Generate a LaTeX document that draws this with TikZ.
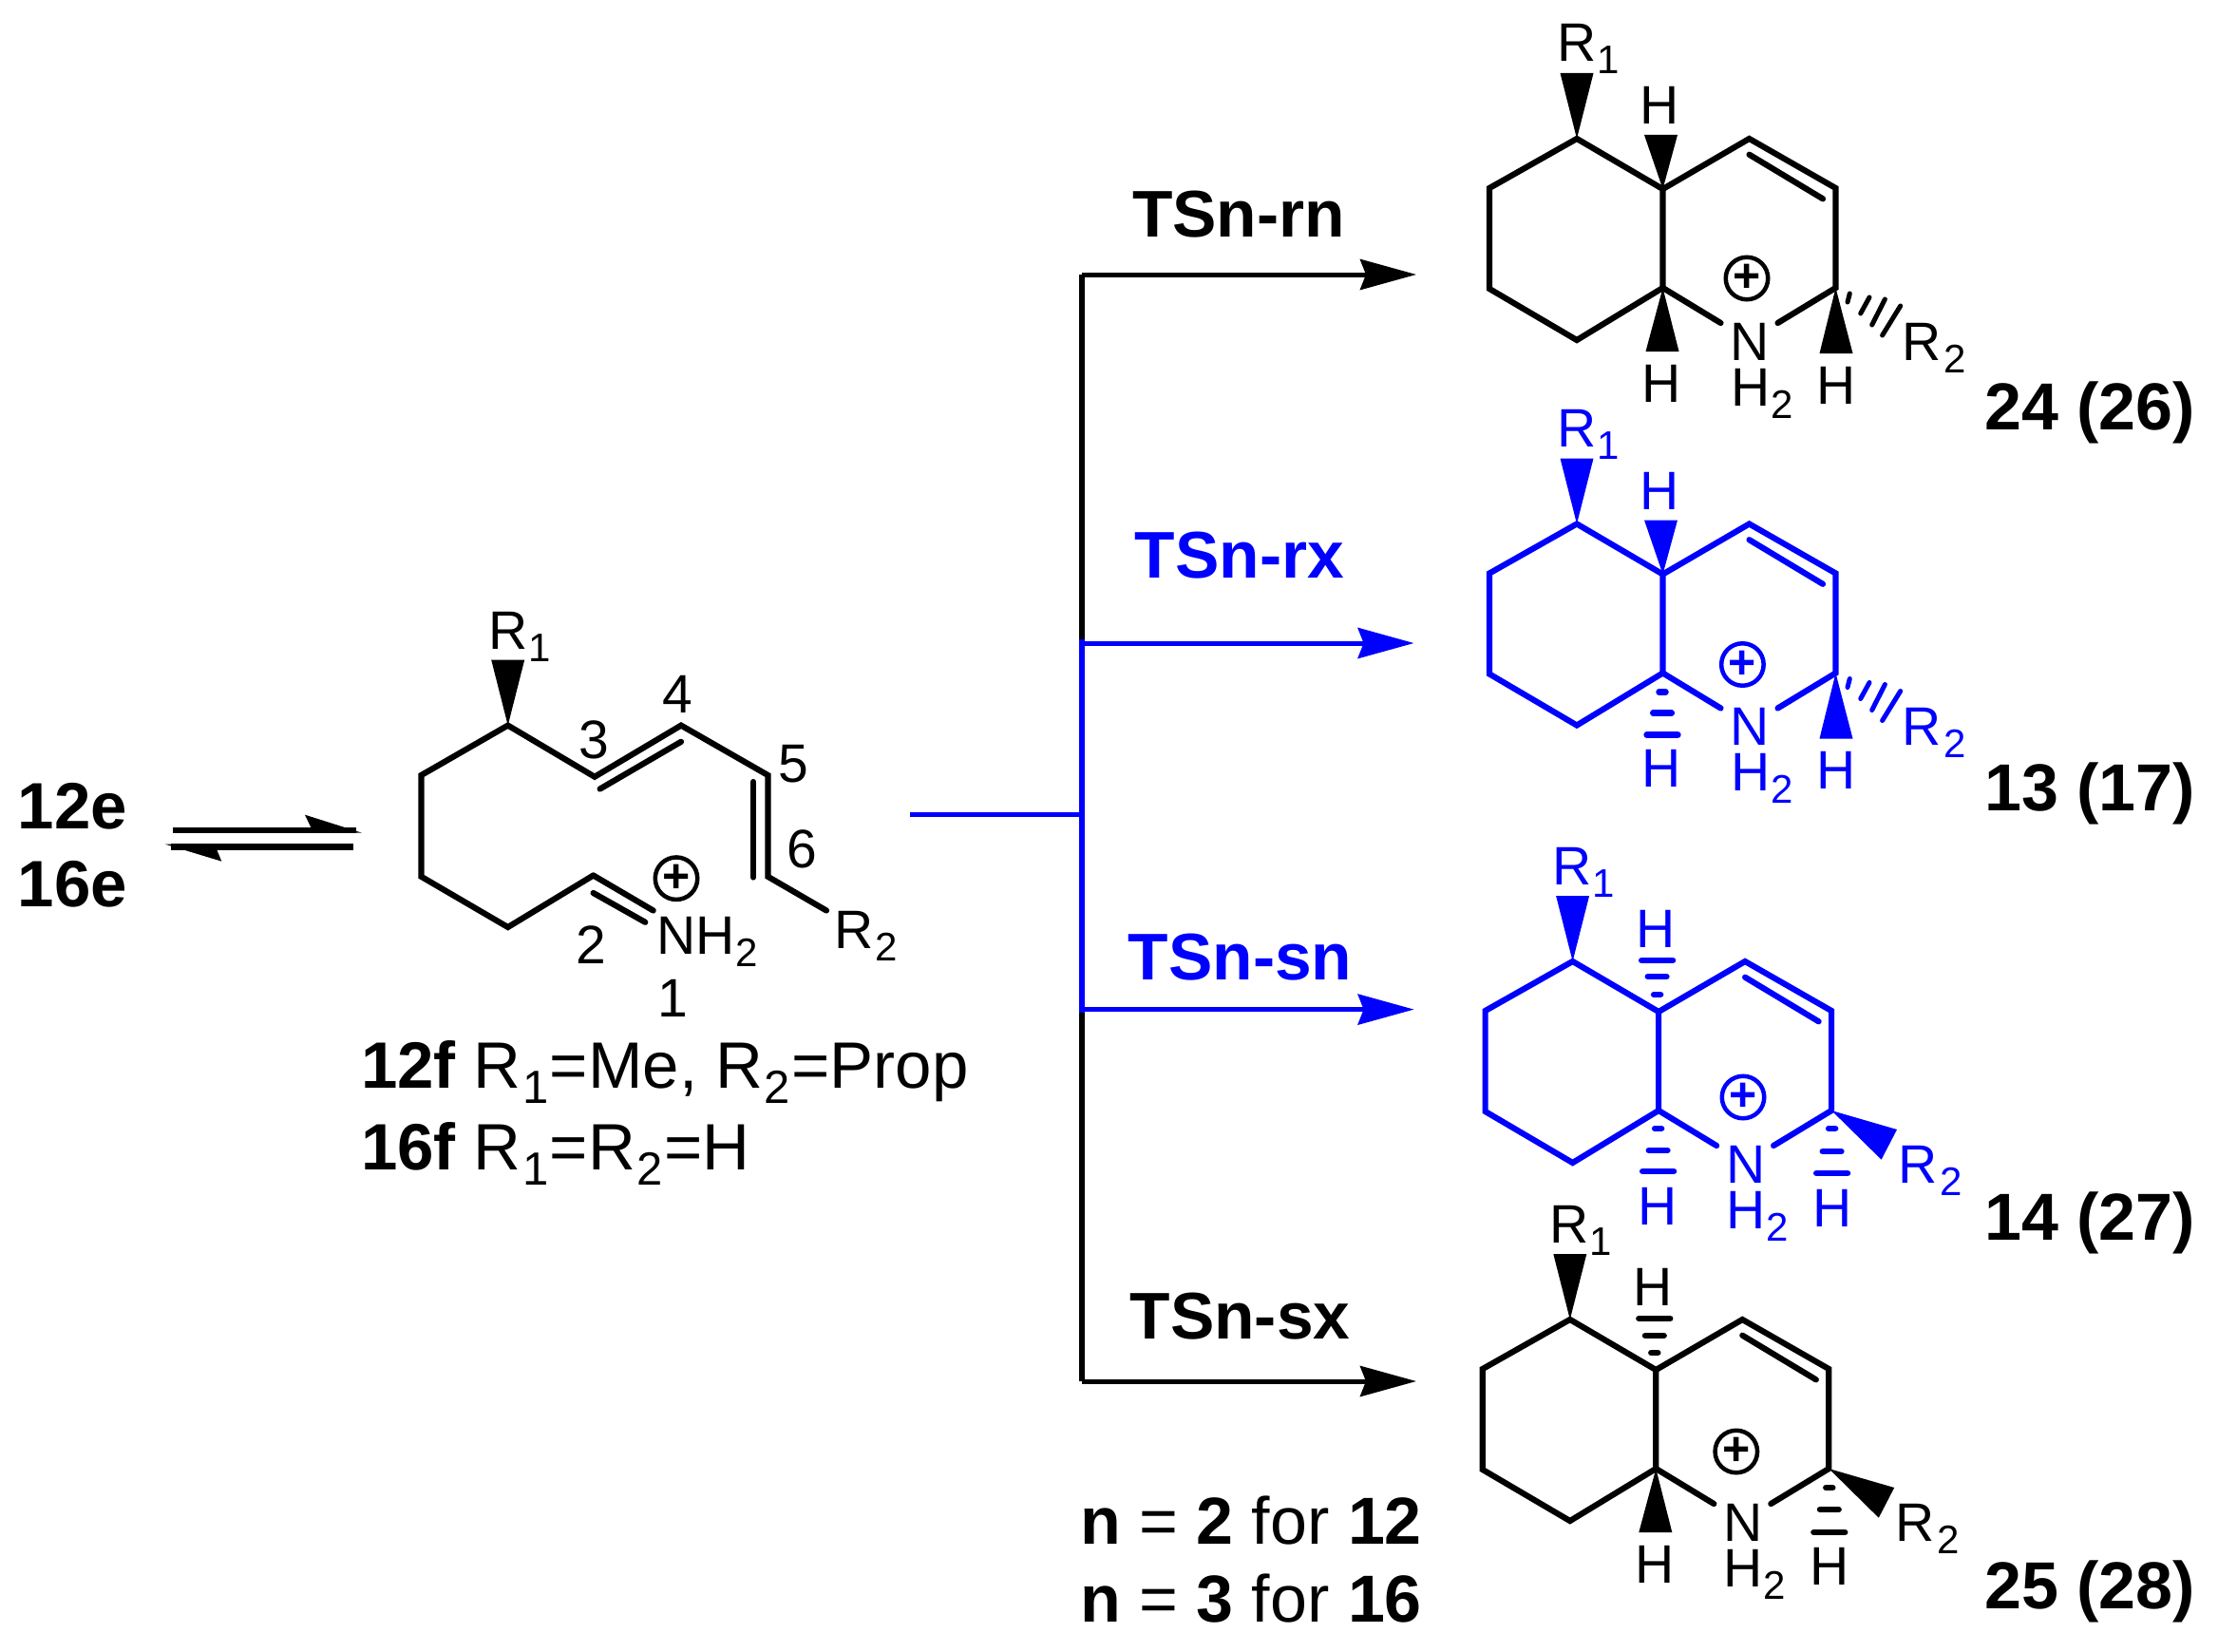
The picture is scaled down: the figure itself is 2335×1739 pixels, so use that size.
\documentclass[tikz,border=0pt]{standalone}
\usepackage{fontspec}
\setmainfont{Liberation Sans}
\usetikzlibrary{arrows.meta}
\definecolor{pureblue}{RGB}{0,0,255}
\newcommand{\fsz}[1]{\fontsize{#1}{#1}\selectfont}
\newcommand{\sbs}[1]{\kern1pt\raisebox{-13pt}{\fsz{42}#1}}
\newcommand{\sbb}[1]{\kern1.5pt\raisebox{-16pt}{\fsz{49}#1}\kern1.5pt}
\tikzset{
  atom/.style={inner sep=0pt,outer sep=0pt,font=\fsz{57},anchor=base},
  atomw/.style={atom,anchor=base west},
  lab/.style={inner sep=0pt,outer sep=0pt,font=\fsz{69},anchor=base west},
  tslab/.style={inner sep=0pt,outer sep=0pt,font=\fsz{69.5}\bfseries,anchor=base},
  nlab/.style={inner sep=0pt,outer sep=0pt,font=\fsz{70},anchor=base west},
  formula/.style={inner sep=0pt,outer sep=0pt,font=\fsz{69},anchor=base west},
  bond/.style={line width=6.2pt,line join=miter,line cap=round},
  inner/.style={line width=6.2pt,line cap=round},
  hashbar/.style={line width=6.5pt,line cap=round},
  chg/.style={circle,draw,line width=4.5pt,minimum size=44.5pt,inner sep=0pt,outer sep=0pt,font=\fsz{50}\bfseries},
  branch/.style={line width=5pt,-{Stealth[length=59pt,width=32pt,inset=6pt]}},
}
% wedge: tip coordinate, base-centre coordinate, half width
\newcommand{\wdg}[3]{\fill (#1) -- ([xshift=-#3pt]#2) -- ([xshift=#3pt]#2) -- cycle;}
% three hash bars: x, y1, y2, y3
\newcommand{\hsh}[4]{%
  \draw[hashbar] ({#1-3.5},#2) -- ({#1+3.5},#2);
  \draw[hashbar] ({#1-9.8},#3) -- ({#1+9.8},#3);
  \draw[hashbar] ({#1-16.4},#4) -- ({#1+16.4},#4);}
% hashed bond to R2
\newcommand{\hashRtwo}{%
  \draw[line width=5pt,line cap=round] (1947.3,309) -- (1945,318);
  \draw[line width=5pt,line cap=round] (1968,313) -- (1958.7,330);
  \draw[line width=5pt,line cap=round] (1984.4,315) -- (1970.7,342);
  \draw[line width=5pt,line cap=round] (2000.7,322) -- (1981.6,353);}
\newcommand{\wedgeRtwo}{\fill (jr) -- (2001.4,323) -- (1985,354.7) -- cycle;}
% fused ring: prefix, colour, dx, dy, plus x, plus y, stereo code
\newcommand{\fused}[7]{%
\begin{scope}[name prefix=#1-,color=#2,shift={(#3,#4)}]
  \coordinate (c5) at (1660,146);
  \coordinate (lu) at (1568,198);
  \coordinate (ll) at (1568,304);
  \coordinate (bo) at (1660,358);
  \coordinate (jb) at (1750.5,303);
  \coordinate (jt) at (1750.5,199);
  \coordinate (tr) at (1841.5,146);
  \coordinate (ru) at (1932.5,198);
  \coordinate (jr) at (1932.5,303);
  \coordinate (na) at (1811.5,340);
  \coordinate (nb) at (1871.5,340);
  \coordinate (ia) at (1841.5,162.7);
  \coordinate (ib) at (1919,209.3);
  \coordinate (wr) at (1660,77);
  \coordinate (wt) at (1748.5,142);
  \coordinate (wb) at (1750,370);
  \coordinate (wh) at (1933,372);
  \draw[bond] (jt) -- (c5) -- (lu) -- (ll) -- (bo) -- (jb) -- cycle;
  \draw[bond] (jt) -- (tr) -- (ru) -- (jr) -- (nb);
  \draw[bond] (jb) -- (na);
  \draw[inner] (ia) -- (ib);
  \wdg{c5}{wr}{17.5}
  \node[atomw] (rone) at (1639,65) {R\sbs{1}};
  \node[atom] (n) at (1842,379) {N};
  \node[atomw] (nh) at (1822,427) {H\sbs{2}};
  \node[atomw] (rtwo) at (2002.5,379) {R\kern2pt\sbs{2}};
  \node[atom] (ht) at (1747,131) {H};
  \node[atom] (hb) at (1749,423) {H};
  \node[atom] (hr) at (1933,425) {H};
  \node[chg] (plus) at (#5,#6) {+};
  #7
\end{scope}}
\begin{document}
\begin{tikzpicture}[x=1pt,y=-1pt]
\useasboundingbox (0,0) rectangle (2335,1739);
\fill[white] (0,0) rectangle (2335,1739);

% --- left: equilibrium
\node[lab] (e12) at (19,872) {\bfseries 12e};
\node[lab] (e16) at (19,954) {\bfseries 16e};
\coordinate (ea) at (182,873.8);
\coordinate (eb) at (375,873.8);
\coordinate (ec) at (372,891.3);
\coordinate (ed) at (180,891.3);
\draw[line width=5.8pt] (ea) -- (eb);
\draw[line width=6.6pt] (ec) -- (ed);
\fill (381,876.7) -- (321,857.7) -- (327.3,871) -- (327.3,876.7) -- cycle;
\fill (174,888.7) -- (233.3,906.7) -- (228.3,894.6) -- (228.3,888.7) -- cycle;

% --- open-chain compound
\coordinate (sc) at (534.7,763.6);
\coordinate (slu) at (443.5,816);
\coordinate (sll) at (443.5,922.8);
\coordinate (sbo) at (534.7,976);
\coordinate (stwo) at (624.6,921.5);
\coordinate (sn) at (687.7,958.5);
\coordinate (sna) at (624.6,940);
\coordinate (snb) at (679.3,970.8);
\coordinate (sthree) at (626,817.7);
\coordinate (sfour) at (717,763.6);
\coordinate (sia) at (631.6,830.5);
\coordinate (sib) at (717,780.8);
\coordinate (sfive) at (808.4,816);
\coordinate (ssix) at (808.4,922.8);
\coordinate (sic) at (793,823);
\coordinate (sid) at (793,923.5);
\coordinate (sr) at (870,958.5);
\coordinate (swr) at (534.7,694.6);
\draw[bond] (stwo) -- (sbo) -- (sll) -- (slu) -- (sc) -- (sthree) -- (sfour) -- (sfive) -- (ssix) -- (sr);
\draw[bond] (stwo) -- (sn);
\draw[inner] (sna) -- (snb);
\draw[inner] (sia) -- (sib);
\draw[inner] (sic) -- (sid);
\wdg{sc}{swr}{17.5}
\node[atomw] (srone) at (514,683) {R\sbs{1}};
\node[atom] (nthree) at (625,798) {3};
\node[atom] (nfour) at (713,750) {4};
\node[atom] (nfive) at (835,823) {5};
\node[atom] (nsix) at (844,913) {6};
\node[atom] (ntwo) at (622,1014.6) {2};
\node[atom] (none) at (708,1070) {1};
\node[atomw] (snh) at (691,1004) {NH\sbs{2}};
\node[atomw] (srtwo) at (878,998) {R\kern1pt\sbs{2}};
\node[chg] (splus) at (712,924.7) {+};
\node[formula] (ftw) at (380,1145) {\bfseries 12f\mdseries\ R\sbb{1}=Me, R\sbb{2}=Prop};
\node[formula] (fsi) at (380,1231) {\bfseries 16f\mdseries\ R\sbb{1}=R\sbb{2}=H};

% --- branching connectors
\coordinate (feed) at (958,857);
\coordinate (top) at (1139,289);
\coordinate (bt) at (1139,672.5);
\coordinate (mid) at (1139,857);
\coordinate (bb) at (1139,1065.5);
\coordinate (bot) at (1139,1454);
\coordinate (tipa) at (1491,289);
\coordinate (tipb) at (1488.6,677);
\coordinate (tipc) at (1488.6,1062.6);
\coordinate (tipd) at (1491,1454);
\draw[line width=5.5pt] (top) -- (bot);
\draw[branch] (top) -- (tipa);
\draw[branch] (bot) -- (tipd);
\begin{scope}[color=pureblue]
\draw[line width=6pt] (bt) -- (bb);
\draw[line width=5pt] (feed) -- (mid);
\draw[branch] (1139,677) -- (tipb);
\draw[branch] (1139,1062.6) -- (tipc);
\node[tslab] (tb) at (1305,608) {TSn-rx};
\node[tslab] (tc) at (1305.5,1031) {TSn-sn};
\end{scope}
\node[tslab] (ta) at (1304,250) {TSn-rn};
\node[tslab] (td) at (1305.5,1409) {TSn-sx};
\node[nlab] (na) at (1137,1625) {\bfseries n\mdseries\ =\ \bfseries 2\mdseries\ for\ \bfseries 12};
\node[nlab] (nc) at (1137,1707) {\bfseries n\mdseries\ =\ \bfseries 3\mdseries\ for\ \bfseries 16};

% --- products
\fused{pa}{black}{0}{0}{1839}{293}{%
  \wdg{jt}{wt}{17.5}\wdg{jb}{wb}{17.5}\wdg{jr}{wh}{17.5}\hashRtwo}
\fused{pb}{pureblue}{0}{405.5}{1834.4}{294}{%
  \wdg{jt}{wt}{17.5}\hsh{1750}{323}{345}{368}\wdg{jr}{wh}{17.5}\hashRtwo}
\fused{pc}{pureblue}{-4.4}{866}{1839.4}{289}{%
  \hsh{1749}{181}{162}{145}\hsh{1750}{322}{345}{367}\hsh{1933}{322}{346}{369}\wedgeRtwo}
\fused{pd}{black}{-7.2}{1243}{1835}{285}{%
  \hsh{1749}{181}{163}{145}\wdg{jb}{wb}{17.5}\hsh{1933}{323}{346}{370}\wedgeRtwo}

\begin{scope}[every node/.style={inner sep=0pt,outer sep=0pt,font=\fsz{70},anchor=base east}]
\node (la) at (2311,452) {\bfseries 24 (26)};
\node (lb) at (2311,853) {\bfseries 13 (17)};
\node (lc) at (2311,1305) {\bfseries 14 (27)};
\node (ld) at (2311,1693) {\bfseries 25 (28)};
\end{scope}
\end{tikzpicture}
\end{document}
